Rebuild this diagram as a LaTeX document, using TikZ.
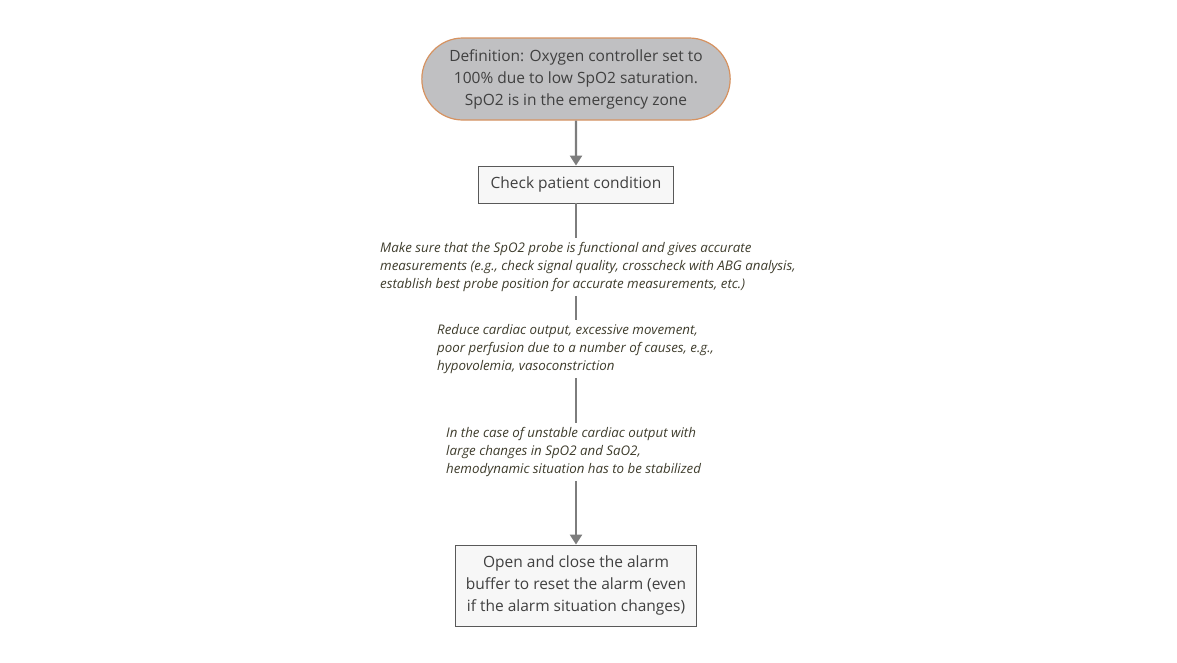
\documentclass[tikz,border=0pt]{standalone}
\usepackage{fontspec}
\setmainfont{Open Sans}
\usetikzlibrary{positioning, arrows.meta, shapes.misc}

\definecolor{defgray}{RGB}{192,192,194}
\definecolor{deforange}{RGB}{214,146,96}
\definecolor{boxfill}{RGB}{247,247,247}
\definecolor{notecolor}{RGB}{62,60,44}
\definecolor{flowgray}{RGB}{125,125,125}

\tikzset{
    defbox/.style = {rounded rectangle, draw=deforange, line width=1.2pt, fill=defgray,
        minimum width=315pt, minimum height=82pt, align=center, text=black!75,
        font=\fontsize{15.5}{22}\selectfont},
    actbox/.style = {draw=black!65, line width=0.9pt, fill=boxfill, align=center, text=black!75,
        font=\fontsize{15.5}{22}\selectfont},
    note/.style = {align=left, anchor=west, inner sep=4pt, text=notecolor,
        font=\fontsize{13.3}{18}\selectfont\itshape},
    flow/.style = {draw=flowgray, line width=2.4pt},
    flowarrow/.style = {flow, -{Triangle[length=10pt,width=12pt]}}
}

\begin{document}
\begin{tikzpicture}[x=1pt, y=-1pt]
        \useasboundingbox (0,0) rectangle (1177,662);
        \node[defbox] (def) at (576,79) {Definition: Oxygen controller set to\\100\% due to low SpO2 saturation.\\SpO2 is in the emergency zone};
        \node[actbox, minimum width=195pt, minimum height=37pt] (check) at (576,184.5) {Check patient condition};
        \node[note] (probe) at (376,267) {Make sure that the SpO2 probe is functional and gives accurate\\measurements (e.g., check signal quality, crosscheck with ABG analysis,\\establish best probe position for accurate measurements, etc.)};
        \node[note] (perfusion) at (433,349) {Reduce cardiac output, excessive movement,\\poor perfusion due to a number of causes, e.g.,\\hypovolemia, vasoconstriction};
        \node[note] (unstable) at (442,452) {In the case of unstable cardiac output with\\large changes in SpO2 and SaO2,\\hemodynamic situation has to be stabilized};
        \node[actbox, minimum width=241pt, minimum height=81pt] (alarm) at (576,585.5) {Open and close the alarm\\buffer to reset the alarm (even\\if the alarm situation changes)};
        \draw[flowarrow] (def) -- (check);
        \draw[flow] (check) -- (check.south |- probe.north);
        \draw[flow] (check.south |- probe.south) -- (check.south |- perfusion.north);
        \draw[flow] (check.south |- perfusion.south) -- (check.south |- unstable.north);
        \draw[flowarrow] (check.south |- unstable.south) -- (alarm);
    \end{tikzpicture}
\end{document}
